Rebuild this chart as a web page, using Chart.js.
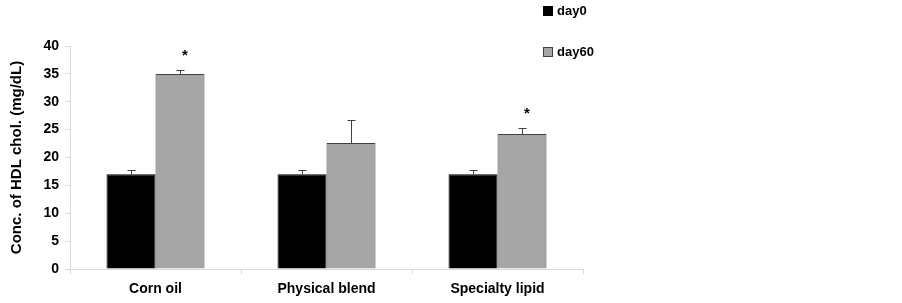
<!DOCTYPE html>
<html>
<head>
<meta charset="utf-8">
<script src="https://cdn.jsdelivr.net/npm/chart.js@4.4.1/dist/chart.umd.min.js"></script>
<style>
  html, body { margin: 0; padding: 0; background: #fff; }
  #wrap { position: relative; width: 902px; height: 303px; }
</style>
</head>
<body>
<div id="wrap"><canvas id="hdlChart" width="902" height="303"></canvas></div>
<script>
const categories = ['Corn oil', 'Physical blend', 'Specialty lipid'];
const day0 = [17, 17, 17];
const day60 = [35, 22.6, 24.2];
const day0Err = [0.8, 0.8, 0.8];
const day60Err = [0.7, 4.1, 1.1];
const day60Sig = ['*', '', '*'];
const yTicks = [0, 5, 10, 15, 20, 25, 30, 35, 40];

const font = { family: "'Liberation Sans', Arial, sans-serif", size: 14, weight: 'bold' };

// upper error whiskers + significance marks
const errorBarPlugin = {
  id: 'errorBars',
  afterDatasetsDraw(chart) {
    const c = chart.ctx;
    const y = chart.scales.y;
    const errs = [day0Err, day60Err];
    c.save();
    c.strokeStyle = '#404040';
    c.lineWidth = 1;
    chart.data.datasets.forEach((ds, di) => {
      const meta = chart.getDatasetMeta(di);
      meta.data.forEach((bar, i) => {
        const x = Math.round(bar.x) + 0.5;
        const top = y.getPixelForValue(ds.data[i]);
        const end = Math.round(y.getPixelForValue(ds.data[i] + errs[di][i])) + 0.5;
        c.beginPath();
        c.moveTo(x, top);
        c.lineTo(x, end);
        c.moveTo(x - 4, end);
        c.lineTo(x + 4, end);
        c.stroke();
        if (di === 1 && day60Sig[i]) {
          c.fillStyle = '#000';
          c.font = 'bold 15px ' + font.family;
          c.textAlign = 'center';
          c.textBaseline = 'middle';
          c.fillText(day60Sig[i], bar.x + 5, end - 15);
        }
      });
    });
    c.restore();
  }
};

// legend stacked to the right, as in the original
const sideLegendPlugin = {
  id: 'sideLegend',
  afterDraw(chart) {
    const c = chart.ctx;
    const items = chart.data.datasets;
    const rows = [11, 52];
    c.save();
    items.forEach((ds, i) => {
      c.fillStyle = ds.backgroundColor;
      c.strokeStyle = ds.borderColor;
      c.lineWidth = 1;
      c.fillRect(543, rows[i] - 5, 10, 10);
      c.strokeRect(543.5, rows[i] - 4.5, 9, 9);
      c.fillStyle = '#000';
      c.font = 'bold 13px ' + font.family;
      c.textAlign = 'left';
      c.textBaseline = 'middle';
      c.fillText(ds.label, 557, rows[i]);
    });
    c.restore();
  }
};

new Chart(document.getElementById('hdlChart'), {
  type: 'bar',
  data: {
    labels: categories,
    datasets: [
      { label: 'day0', data: day0, backgroundColor: '#000000', borderColor: '#000000', borderWidth: 1 },
      { label: 'day60', data: day60, backgroundColor: '#a6a6a6', borderColor: '#404040', borderWidth: 1 }
    ]
  },
  options: {
    responsive: false,
    animation: false,
    categoryPercentage: 0.573,
    barPercentage: 1,
    layout: { padding: { left: 0, right: 319, top: 46, bottom: 0 } },
    plugins: { legend: { display: false }, tooltip: { enabled: false } },
    scales: {
      x: {
        afterFit: axis => { axis.height = 34; },
        grid: { offset: true, drawOnChartArea: false, color: '#d9d9d9', tickLength: 5 },
        border: { color: '#d9d9d9' },
        ticks: { color: '#000', font, padding: 7 }
      },
      y: {
        min: 0,
        max: 40,
        afterFit: axis => { axis.width = 70; },
        afterBuildTicks: axis => { axis.ticks = yTicks.map(v => ({ value: v })); },
        grid: { drawOnChartArea: false, color: '#d9d9d9', tickLength: 5 },
        border: { color: '#d9d9d9' },
        ticks: { color: '#000', font, padding: 6 },
        title: { display: true, text: 'Conc. of HDL chol. (mg/dL)', color: '#000', font: { ...font, size: 15 }, padding: { top: 8, bottom: 0 } }
      }
    }
  },
  plugins: [errorBarPlugin, sideLegendPlugin]
});
</script>
</body>
</html>
